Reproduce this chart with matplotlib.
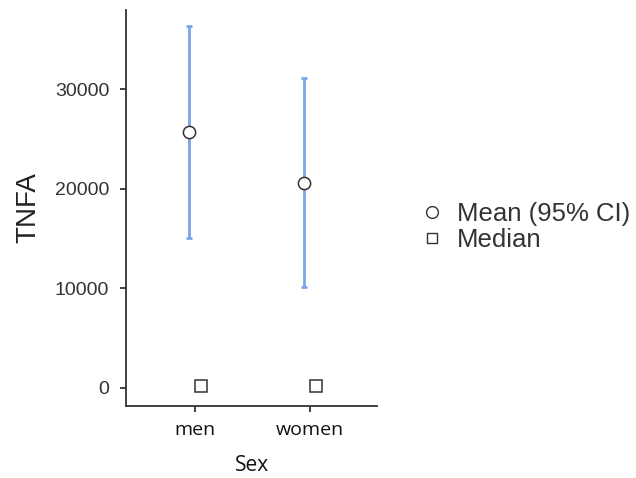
import matplotlib
matplotlib.use("Agg")
import matplotlib.pyplot as plt
from matplotlib.lines import Line2D
import numpy as np

categories = ["men", "women"]
means = [25730, 20650]
ci_low = [15100, 10150]
ci_high = [36400, 31200]
medians = [200, 200]
y_ticks = [0, 10000, 20000, 30000]

fig = plt.figure(figsize=(6.36, 4.78), dpi=100)
ax = fig.add_axes([126/636, 1-406/478, (377-126)/636, (406-10)/478])

dark = "#333333"
blue = "#7aa6ea"
x = np.arange(1, len(categories)+1)
off = 0.052

m = np.array(means)
yerr = np.array([m - np.array(ci_low), np.array(ci_high) - m])
ax.errorbar(x - off, m, yerr=yerr, fmt="none", ecolor=blue, elinewidth=2.0,
            capsize=2.2, capthick=2.0, zorder=2)
ax.plot(x - off, m, linestyle="none", marker="o", markersize=8.8,
        markerfacecolor="white", markeredgecolor=dark, markeredgewidth=1.1, zorder=3)
ax.plot(x + off, medians, linestyle="none", marker="s", markersize=8.5,
        markerfacecolor="white", markeredgecolor=dark, markeredgewidth=1.1, zorder=3)

ax.set_xlim(0.4, 2.58)
ax.set_ylim(-1810, 37990)
ax.set_xticks(x)
ax.set_xticklabels(categories, fontfamily="Open Sans", fontsize=14, color="#111111")
ax.set_yticks(y_ticks)
ax.set_yticklabels([str(v) for v in y_ticks], fontfamily="Liberation Sans", fontsize=14, color="#333333")

for s in ["top", "right"]:
    ax.spines[s].set_visible(False)
for s in ["left", "bottom"]:
    ax.spines[s].set_color(dark)
    ax.spines[s].set_linewidth(1.3)
ax.tick_params(axis="both", color=dark, width=1.3, length=4)
ax.tick_params(axis="y", pad=8)
ax.tick_params(axis="x", pad=7)

ax.set_xlabel("Sex", fontfamily="Open Sans", fontsize=15, color="#111111", labelpad=11)
ax.set_ylabel("TNFA", fontfamily="Liberation Sans", fontsize=20, color="#222222", labelpad=10)

handles = [
    Line2D([], [], linestyle="none", marker="o", markersize=8.5, markerfacecolor="white",
           markeredgecolor=dark, markeredgewidth=1.0),
    Line2D([], [], linestyle="none", marker="s", markersize=7.5, markerfacecolor="white",
           markeredgecolor=dark, markeredgewidth=1.0),
]
fig.legend(handles, ["Mean (95% CI)", "Median"], loc="center left",
           bbox_to_anchor=(409/636, 1-227/478), frameon=False,
           prop={"family": "Liberation Sans", "size": 18.5},
           labelspacing=0.05, handletextpad=0.55, handlelength=0.8, borderpad=0,
           labelcolor="#333333")

fig.savefig("out.png", dpi=100)
